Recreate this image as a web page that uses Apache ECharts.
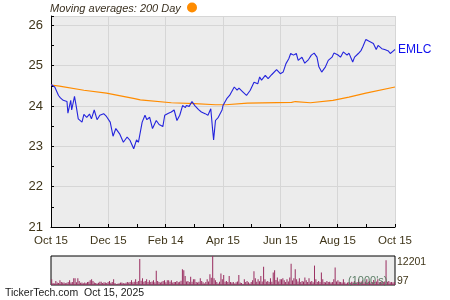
<!DOCTYPE html>
<html><head><meta charset="utf-8">
<script src="https://cdn.jsdelivr.net/npm/echarts@6/dist/echarts.min.js"></script>
<style>html,body{margin:0;padding:0;background:#fff}#c{width:450px;height:300px}</style>
</head><body><div id="c"></div>
<script>
// x ticks (day offsets from 2024-10-15)
const xTickLabels = ["Oct 15","Dec 15","Feb 14","Apr 15","Jun 15","Aug 15","Oct 15"];
const yTickValues = [21,22,23,24,25,26];
// EMLC price (day offset, close)
const priceDays = [0,4,8,10,13,17,18,21,22,25,27,29,33,35,38,41,43,46,49,52,56,59,63,66,69,73,77,81,84,88,91,93,97,100,102,105,108,112,115,119,121,125,128,131,134,137,140,143,144,147,150,153,157,160,164,167,170,172,173,175,178,182,183,187,190,195,198,200,204,208,212,216,220,222,224,228,231,235,237,240,244,247,250,253,255,258,261,263,267,270,274,277,280,283,285,288,292,295,299,301,305,308,311,315,317,321,323,327,330,332,335,338,340,343,346,348,352,355,359,361,364,366];
const priceValues = [24.53,24.47,24.26,24.2,24.14,24.11,23.82,24.14,23.9,24.24,23.97,23.68,23.6,23.79,23.72,23.8,23.68,23.9,23.66,23.77,23.81,23.74,23.6,23.25,23.44,23.31,23.1,23.23,23.15,22.94,23.16,23.1,23.6,23.77,23.66,23.72,23.44,23.64,23.54,23.49,23.77,23.82,23.85,23.9,23.64,23.77,24.01,23.96,24.01,23.99,24.11,24.01,23.91,23.85,23.81,23.77,23.93,23.4,23.16,23.64,23.72,23.9,24.01,24.18,24.26,24.47,24.39,24.44,24.35,24.26,24.39,24.59,24.55,24.72,24.64,24.76,24.68,24.78,24.76,24.9,24.8,24.84,25.05,25.17,25.3,25.26,25.3,25.13,25.21,25.06,25.15,25.26,25.31,25.21,24.97,24.84,24.97,25.13,25.21,25.31,25.27,25.21,25.34,25.26,25.31,25.09,25.21,25.3,25.38,25.48,25.65,25.61,25.63,25.55,25.4,25.5,25.42,25.4,25.36,25.3,25.36,25.4];
// 200-day moving average
const maDays = [0,9,35,59,89,95,128,153,175,186,209,256,260,276,300,317,335,366];
const maValues = [24.52,24.49,24.39,24.32,24.18,24.15,24.08,24.06,24.03,24.03,24.07,24.09,24.11,24.08,24.14,24.22,24.32,24.47];
// daily volume (1000's)
const volumeValues = [2500,900,700,1800,1100,900,2100,1300,1100,1100,800,1000,1400,2100,1100,1300,2900,2900,1200,2900,1800,1000,1100,800,1100,900,1300,1500,2100,2500,1800,1100,900,700,1000,1500,1500,900,1200,1100,900,1300,1800,1000,1400,2500,900,400,600,800,1100,1100,900,700,1000,1300,1100,1400,2100,1200,1500,2500,1300,1800,10900,1900,2900,1500,1800,2500,1400,2100,1300,1600,2100,1200,6000,1800,1300,1100,1500,1800,2100,1200,2100,2100,1500,2100,1100,1400,1300,1800,1200,1500,1900,6700,6300,3900,1600,1800,1400,3500,1500,2500,2500,1300,1100,1500,2900,1800,1200,700,1300,2500,1600,4600,3100,12201,2900,2100,1300,700,1500,4900,2500,4300,1500,1800,1300,3900,1400,1100,1300,700,1200,1600,4300,1100,900,400,2500,1300,1800,1200,700,1300,2100,5800,2900,1500,2500,1700,3900,1600,7700,2500,1500,1800,1300,2900,1500,5300,6300,2200,3200,1600,2500,2500,2900,2100,1400,2500,1600,3200,9000,2000,2900,6700,2500,1600,2900,1400,1800,1500,3200,2100,1300,2900,1500,1800,1200,8200,2500,1400,1800,1300,5300,2500,1400,1200,1800,1300,1500,1100,1400,2500,7400,1600,2100,1500,1300,1100,2500,1200,700,1100,1300,1000,1500,1200,1800,1100,1400,2500,1300,1600,2100,1200,1500,2500,1300,1800,1100,1400,2200,1300,1600,2500,1200,1400,1800,1300,1600,10400,1500,1800,1200,1400,1100,1300];
const volumeLabels = ["12201","97"];

const txt = '#3f3519';
const chart = echarts.init(document.getElementById('c'), null, {renderer:'canvas'});
const price = priceDays.map((d,i)=>[d,priceValues[i]]);
const ma = maDays.map((d,i)=>[d,maValues[i]]);
const volCats = volumeValues.map((v,i)=>i);
chart.setOption({
  animation:false,
  backgroundColor:'#fff',
  grid:[
    {left:51,top:16,width:344,height:211,show:true,backgroundColor:'#ececec',borderWidth:0},
    {left:51,top:256,width:344,height:29,show:true,backgroundColor:'#ececec',borderColor:'#000',borderWidth:1}
  ],
  xAxis:[
    {type:'value',gridIndex:0,min:0,max:366,interval:61,
     axisLine:{show:true,onZero:false,lineStyle:{color:'#000',width:1}},
     axisTick:{show:true,inside:true,length:3,lineStyle:{color:'#000'}},
     minorTick:{show:true,splitNumber:2,length:3,lineStyle:{color:'#000'}},
     splitLine:{show:true,lineStyle:{color:'#d6d6d6',width:1}},
     axisLabel:{color:txt,fontSize:11.5,fontFamily:'Liberation Sans, Arial, sans-serif',margin:8,
       formatter:v=>xTickLabels[Math.round(v/61)]||''}},
    {type:'category',gridIndex:1,data:volCats,boundaryGap:true,
     axisLine:{show:false},axisTick:{show:false},axisLabel:{show:false},splitLine:{show:false}}
  ],
  yAxis:[
    {type:'value',gridIndex:0,min:21,max:26.23,interval:1,
     axisLine:{show:true,lineStyle:{color:'#000',width:1}},
     axisTick:{show:true,inside:true,length:3,lineStyle:{color:'#000'}},
     minorTick:{show:true,splitNumber:2,length:3,lineStyle:{color:'#000'}},
     splitLine:{show:true,lineStyle:{color:'#d6d6d6',width:1}},
     axisLabel:{color:txt,fontSize:13,fontFamily:'Liberation Sans, Arial, sans-serif',margin:8,showMaxLabel:false,
       formatter:v=>yTickValues.indexOf(v)>=0?String(v):''}},
    {type:'value',gridIndex:1,min:97,max:12201,position:'right',
     axisLine:{show:false},axisTick:{show:false},splitLine:{show:false},axisLabel:{show:false}}
  ],
  graphic:[
    {type:'text',left:50,top:3,style:{text:'Moving averages: 200 Day',font:'italic 11px "Liberation Sans", Arial, sans-serif',fill:'#3a3020'}},
    {type:'circle',shape:{cx:192,cy:7.5,r:5},style:{fill:'#ff8c00'}},
    {type:'text',left:397,top:257,style:{text:volumeLabels[0],font:'10.5px "Liberation Sans", Arial, sans-serif',fill:txt}},
    {type:'text',left:397,top:276,style:{text:volumeLabels[1],font:'10.5px "Liberation Sans", Arial, sans-serif',fill:txt}},
    {type:'text',left:348,top:275,z:100,style:{text:"(1000's)",font:'11px "Liberation Sans", Arial, sans-serif',fill:'#5c7e66'}},
    {type:'text',left:5,top:288,style:{text:'TickerTech.com  Oct 15, 2025',font:'10.5px "Liberation Sans", Arial, sans-serif',fill:'#1a1a1a'}}
  ],
  series:[
    {type:'line',xAxisIndex:0,yAxisIndex:0,data:ma,showSymbol:false,lineStyle:{color:'#ff8c00',width:1.2},z:2},
    {type:'line',xAxisIndex:0,yAxisIndex:0,data:price,showSymbol:false,lineStyle:{color:'#2424dd',width:1.1},z:3,
     endLabel:{show:true,formatter:'EMLC',color:'#1010ee',fontSize:12,fontFamily:'Liberation Sans, Arial, sans-serif',distance:3}},
    {type:'bar',xAxisIndex:1,yAxisIndex:1,data:volumeValues,barCategoryGap:'25%',itemStyle:{color:'#9b3163'}}
  ]
});
</script></body></html>
